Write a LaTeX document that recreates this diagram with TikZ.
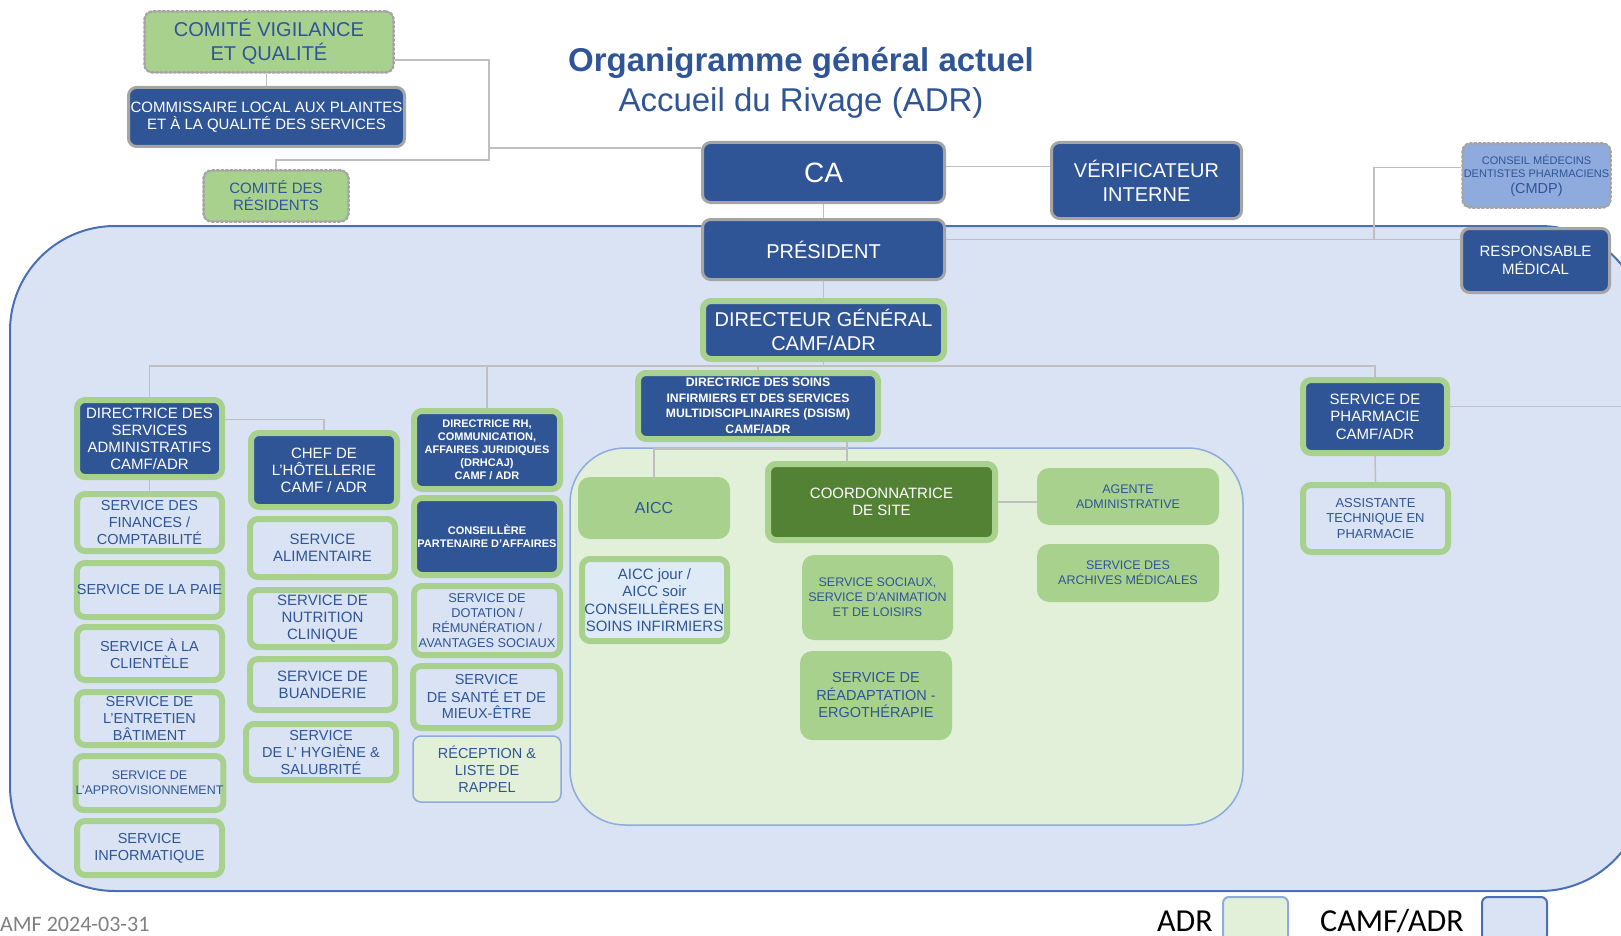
\documentclass[tikz,border=0pt]{standalone}
\usepackage{fontspec}
\setmainfont{Liberation Sans}
\newfontfamily\calibfont{Carlito}
\usetikzlibrary{positioning}
\pgfdeclarelayer{back}
\pgfdeclarelayer{mid}
\pgfsetlayers{back,mid,main}
\definecolor{dkblue}{HTML}{2F5597}
\definecolor{boxgray}{HTML}{A5A5A5}
\definecolor{ltgreen}{HTML}{A9D18E}
\definecolor{dkgreen}{HTML}{548235}
\definecolor{adrgreen}{HTML}{E2F0D9}
\definecolor{camfblue}{HTML}{DAE3F3}
\definecolor{edgeblue}{HTML}{4A6FB5}
\definecolor{cmdpblue}{HTML}{8FAADC}
\definecolor{txtblue}{HTML}{2F5597}
\definecolor{linegray}{HTML}{BFBFBF}
\definecolor{paleblue}{HTML}{DEEBF7}
\definecolor{footgray}{HTML}{808080}

\begin{document}
\begin{tikzpicture}[x=1pt,y=-1pt,line cap=round,line join=round,
  fsz/.style 2 args={font=\fontsize{#1}{#2}\selectfont},
  fszb/.style 2 args={font=\fontsize{#1}{#2}\selectfont\bfseries},
  orgbox/.style={rounded corners=8pt,align=center,inner sep=0pt},
  bluebox/.style={orgbox,fill=dkblue,draw=boxgray,line width=3pt,text=white},
  headbox/.style={orgbox,fill=dkblue,draw=ltgreen,line width=6pt,text=white},
  servbox/.style={orgbox,fill=camfblue,draw=ltgreen,line width=6pt,text=txtblue},
  greenbox/.style={orgbox,rounded corners=12pt,fill=ltgreen,text=txtblue},
  dotbox/.style={orgbox,draw=boxgray,dotted,line width=2.5pt,text=txtblue},
  legbox/.style={rounded corners=6pt,line width=2pt,minimum width=65pt,minimum height=44pt,inner sep=0pt},
  conn/.style={draw=linegray,line width=1.5pt}]
\useasboundingbox (0,0) rectangle (1621,936);
\clip (0,0) rectangle (1621,936);

% zones CAMF/ADR et ADR
\begin{pgfonlayer}{back}
\draw[fill=camfblue,draw=edgeblue,line width=2pt,rounded corners=105pt] (10,226) rectangle (1645,891);
\draw[fill=adrgreen,draw=cmdpblue,line width=1.5pt,rounded corners=55pt] (570,448) rectangle (1243,825);
\end{pgfonlayer}

% titre
\node[anchor=base,inner sep=0pt,text=txtblue,fszb={33}{38}] (title) at (801,72) {Organigramme général actuel};
\node[anchor=base,inner sep=0pt,text=txtblue,fsz={33}{38}] (subtitle) at (801,112) {Accueil du Rivage (ADR)};

% haut
\node[dotbox,fill=ltgreen,minimum width=249pt,minimum height=61pt,fsz={20}{24}] (vigil) at (269,42) {COMITÉ VIGILANCE\\ET QUALITÉ};
\node[bluebox,minimum width=276pt,minimum height=59pt,fsz={15}{17}] (commis) at (266.5,117) {COMMISSAIRE LOCAL AUX PLAINTES\\ET À LA QUALITÉ DES SERVICES};
\node[dotbox,fill=ltgreen,minimum width=145pt,minimum height=51pt,fsz={15}{17}] (resid) at (276,196) {COMITÉ DES\\RÉSIDENTS};
\node[bluebox,minimum width=242pt,minimum height=60pt,fsz={28}{32}] (ca) at (823.5,172.5) {CA};
\node[bluebox,minimum width=190pt,minimum height=76pt,fsz={20}{24}] (verif) at (1146.5,180.5) {VÉRIFICATEUR\\INTERNE};
\node[bluebox,minimum width=242pt,minimum height=60pt,fsz={20}{24}] (pres) at (823.5,249.5) {PRÉSIDENT};
\node[headbox,minimum width=241pt,minimum height=58pt,fsz={20}{24}] (dg) at (823.5,330) {DIRECTEUR GÉNÉRAL\\CAMF/ADR};
\node[dotbox,fill=cmdpblue,minimum width=148pt,minimum height=64pt,fsz={11}{13}] (cmdp) at (1536.5,175.5) {CONSEIL MÉDECINS\\DENTISTES PHARMACIENS\\[3pt]{\fontsize{14.5}{15}\selectfont (CMDP)}};
\node[bluebox,minimum width=148pt,minimum height=64pt,fsz={15}{17.5}] (respmed) at (1535.5,260.5) {RESPONSABLE\\MÉDICAL};

% services administratifs
\node[headbox,minimum width=145pt,minimum height=77pt,fsz={15}{17}] (dsa) at (149.5,438.5) {DIRECTRICE DES\\SERVICES\\ADMINISTRATIFS\\CAMF/ADR};
\node[servbox,minimum width=145pt,minimum height=57pt,fsz={14.5}{17}] (fin) at (149.5,522.5) {SERVICE DES\\FINANCES /\\COMPTABILITÉ};
\node[servbox,minimum width=145pt,minimum height=54pt,fsz={14.5}{17}] (paie) at (149.5,590) {SERVICE DE LA PAIE};
\node[servbox,minimum width=145pt,minimum height=53pt,fsz={14.5}{17}] (client) at (149.5,653.5) {SERVICE À LA\\CLIENTÈLE};
\node[servbox,minimum width=145pt,minimum height=53pt,fsz={14.5}{17}] (entret) at (149.5,718.5) {SERVICE DE\\L’ENTRETIEN\\BÂTIMENT};
\node[servbox,minimum width=145pt,minimum height=54pt,fsz={12.5}{15}] (approv) at (149.5,783) {SERVICE DE\\L’APPROVISIONNEMENT};
\node[servbox,minimum width=145pt,minimum height=54pt,fsz={14.5}{17}] (info) at (149.5,848) {SERVICE\\INFORMATIQUE};

% hotellerie
\node[headbox,minimum width=146pt,minimum height=74pt,fsz={15}{17}] (hotel) at (324,470) {CHEF DE\\L’HÔTELLERIE\\CAMF / ADR};
\node[servbox,minimum width=145pt,minimum height=58pt,fsz={15}{17}] (alim) at (322.5,548) {SERVICE\\ALIMENTAIRE};
\node[servbox,minimum width=145pt,minimum height=57pt,fsz={15}{17}] (nutri) at (322.5,618.5) {SERVICE DE\\NUTRITION\\CLINIQUE};
\node[servbox,minimum width=145pt,minimum height=51pt,fsz={15}{17}] (buand) at (322.5,684.5) {SERVICE DE\\BUANDERIE};
\node[servbox,minimum width=150pt,minimum height=56pt,fsz={14.5}{17}] (hygi) at (321,752) {SERVICE\\DE L’ HYGIÈNE \&\\SALUBRITÉ};

% ressources humaines
\node[headbox,minimum width=146pt,minimum height=78pt,fszb={11}{13}] (drh) at (487,450) {DIRECTRICE RH,\\COMMUNICATION,\\AFFAIRES JURIDIQUES\\(DRHCAJ)\\CAMF / ADR};
\node[headbox,minimum width=146pt,minimum height=77pt,fszb={11}{13}] (conseil) at (487,536.5) {CONSEILLÈRE\\PARTENAIRE D’AFFAIRES};
\node[servbox,minimum width=146pt,minimum height=69pt,fsz={12.8}{15}] (dotat) at (487,620.5) {SERVICE DE\\DOTATION /\\RÉMUNÉRATION /\\AVANTAGES SOCIAUX};
\node[servbox,minimum width=147pt,minimum height=62pt,fsz={14.5}{17}] (sante) at (486.5,697) {SERVICE\\DE SANTÉ ET DE\\MIEUX-ÊTRE};
\node[orgbox,fill=adrgreen,draw=cmdpblue,line width=1.5pt,text=txtblue,minimum width=148pt,minimum height=66pt,fsz={14.5}{17}] (recep) at (487,769) {RÉCEPTION \&\\LISTE DE\\RAPPEL};

% soins infirmiers
\node[headbox,minimum width=240pt,minimum height=66pt,fszb={12.2}{15.5}] (dsism) at (758,406) {DIRECTRICE DES SOINS\\INFIRMIERS ET DES SERVICES\\MULTIDISCIPLINAIRES (DSISM)\\CAMF/ADR};
\node[greenbox,minimum width=152pt,minimum height=62pt,fsz={16}{19}] (aicc) at (654,508) {AICC};
\node[orgbox,fill=paleblue,draw=ltgreen,line width=6pt,text=txtblue,minimum width=145pt,minimum height=82pt,fsz={15}{17.5}] (aiccjour) at (654.5,600) {AICC jour /\\AICC soir\\CONSEILLÈRES EN\\SOINS INFIRMIERS};
\node[orgbox,fill=dkgreen,draw=ltgreen,line width=6pt,text=white,minimum width=227pt,minimum height=76pt,fsz={15}{17.5}] (coord) at (881.5,502) {COORDONNATRICE\\DE SITE};
\node[greenbox,minimum width=151pt,minimum height=85pt,fsz={12.5}{15}] (sociaux) at (877.5,597.5) {SERVICE SOCIAUX,\\SERVICE D’ANIMATION\\ET DE LOISIRS};
\node[greenbox,minimum width=152pt,minimum height=89pt,fsz={14.5}{17.5}] (readapt) at (876,695.5) {SERVICE DE\\RÉADAPTATION -\\ERGOTHÉRAPIE};
\node[greenbox,minimum width=182pt,minimum height=57pt,fsz={12.5}{15}] (agente) at (1128,496.5) {AGENTE\\ADMINISTRATIVE};
\node[greenbox,minimum width=182pt,minimum height=58pt,fsz={12.5}{15}] (archiv) at (1128,573) {SERVICE DES\\ARCHIVES MÉDICALES};

% pharmacie
\node[headbox,minimum width=144pt,minimum height=73pt,fsz={15}{17.5}] (pharma) at (1375,416.5) {SERVICE DE\\PHARMACIE\\CAMF/ADR};
\node[servbox,minimum width=145pt,minimum height=67pt,fsz={13}{15.5}] (assist) at (1375.5,518.5) {ASSISTANTE\\TECHNIQUE EN\\PHARMACIE};

% liens
\begin{pgfonlayer}{mid}
\coordinate (jq) at (489,160);
\coordinate (bus) at (817,366);
\coordinate (rbus) at (1374,240);
\coordinate (sbus) at (847,449);
\coordinate (redge) at (1630,0);
\draw[conn] ([yshift=-18pt]vigil.east) -| (jq) -| (resid.north);
\draw[conn] ([yshift=-7pt]ca.north west) -- ([yshift=-7pt]ca.north west -| jq);
\draw[conn] (commis.north) -- (commis.north |- vigil.south);
\draw[conn] ([yshift=6pt]ca.east) -- ([yshift=6pt]ca.east -| verif.west);
\draw[conn] (ca.south) -- (pres.north);
\draw[conn] (pres.south) -- (dg.north);
\draw[conn] ([yshift=10pt]pres.east) -- ([yshift=10pt]pres.east -| respmed.west);
\draw[conn] (rbus) |- ([yshift=8pt]cmdp.west);
\draw[conn] (dg.south) -- (dg.south |- bus);
\draw[conn] (dsa.north) |- (pharma.north |- bus) -- (pharma.north);
\draw[conn] (drh.north) -- (drh.north |- bus);
\draw[conn] (dsism.north) -- (dsism.north |- bus);
\draw[conn] ([yshift=19pt]dsa.east) -| (hotel.north);
\draw[conn] (dsa.south) -- (fin.north);
\draw[conn] (dsism.south -| sbus) -- (coord.north -| sbus);
\draw[conn] (sbus) -| (aicc.north);
\draw[conn] (coord.east) -- (coord.east -| agente.west);
\draw[conn] ([yshift=10pt]pharma.east) -- ([yshift=10pt]pharma.east -| redge);
\draw[conn] (pharma.south) -- (assist.north);
\end{pgfonlayer}

% pied et legende
\node[anchor=base west,inner sep=0pt,text=footgray,font=\calibfont\fontsize{22}{26}\selectfont] (datefoot) at (0,931) {AMF 2024-03-31};
\node[anchor=base west,inner sep=0pt,font=\calibfont\fontsize{32}{36}\selectfont] (legadr) at (1157,931) {ADR};
\node[legbox,fill=adrgreen,draw=cmdpblue] (legadrbox) at (1255.5,919) {};
\node[anchor=base west,inner sep=0pt,font=\calibfont\fontsize{32}{36}\selectfont] (legcamf) at (1320,931) {CAMF/ADR};
\node[legbox,fill=camfblue,draw=edgeblue] (legcamfbox) at (1514.5,919) {};
\end{tikzpicture}
\end{document}
